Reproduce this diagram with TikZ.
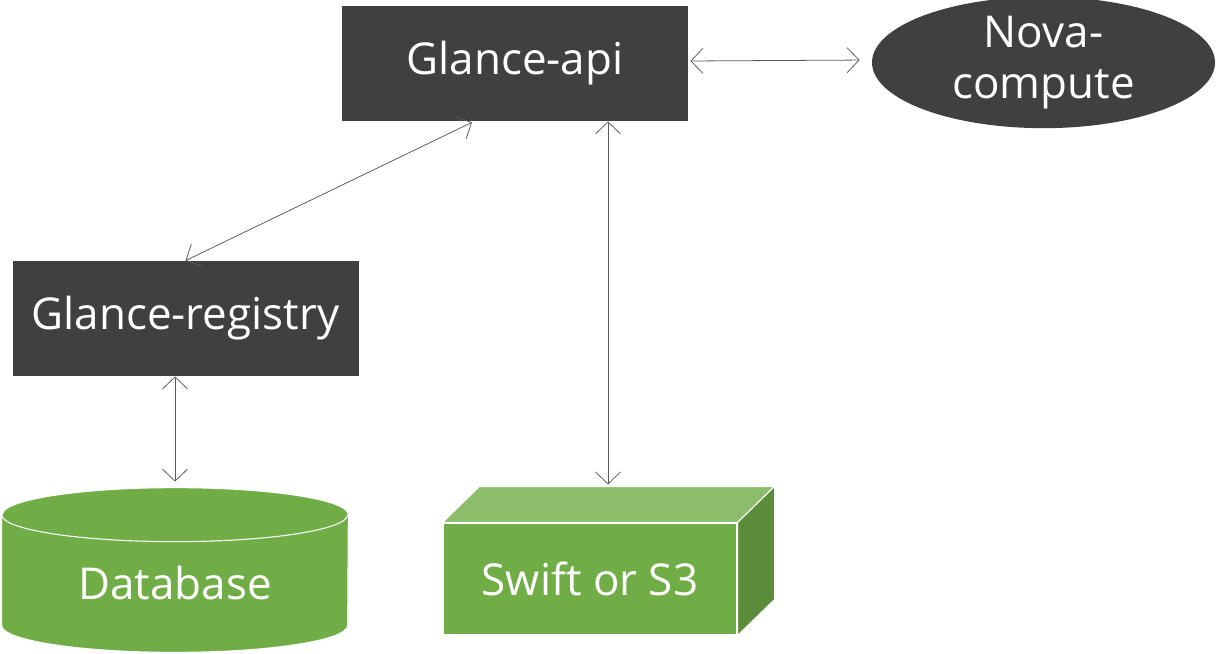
\documentclass[tikz,border=0pt]{standalone}
\usepackage{fontspec}
\setmainfont{Open Sans}
\usetikzlibrary{calc,shapes.geometric,arrows.meta}

\definecolor{boxgray}{HTML}{404040}
\definecolor{storegreen}{HTML}{70AD47}
\definecolor{storelight}{HTML}{8DBD6B}
\definecolor{storedark}{HTML}{5A8C3A}

\begin{document}
\begin{tikzpicture}[
 >={Straight Barb[length=2.4mm,width=5mm]},
 align=center,
 font=\fontsize{25}{29}\selectfont,
 link/.style={<->,draw=boxgray!85,line width=0.45pt},
 service/.style={draw=none,fill=boxgray,text=white,rectangle,minimum width=6.92cm,minimum height=2.3cm},
 worker/.style={draw=none,fill=boxgray,text=white,ellipse,minimum width=6.86cm,minimum height=2.3cm,inner sep=0pt},
 store/.style={draw=white,line width=0.6pt,fill=storegreen,text=white,rectangle,minimum width=5.88cm,minimum height=2.24cm},
 db/.style={draw=none,text=white,rectangle,minimum width=6.92cm,minimum height=3.28cm,inner sep=0pt},
 face/.style={draw=white,line width=0.6pt}
]
\useasboundingbox (0,0) rectangle (24.34,-13.08);
\node (glance-api) [service] at (10.30,-1.27) {Glance-api};
\node (nova-compute) [worker] at (20.87,-1.25) {Nova-\\compute};
\node (glance-registry) [service] at (3.71,-6.37) {Glance-registry};
\node (database) [db] at (3.50,-11.40) {};
% cylinder body and top
\filldraw[face,fill=storegreen]
 ($(database.north west)+(0,-0.54)$) -- ($(database.south west)+(0,0.54)$)
 arc[start angle=180,end angle=360,x radius=3.46cm,y radius=0.54cm]
 -- ($(database.north east)+(0,-0.54)$)
 arc[start angle=0,end angle=180,x radius=3.46cm,y radius=0.54cm] -- cycle;
\draw[face] ($(database.north west)+(0,-0.54)$)
 arc[start angle=180,end angle=360,x radius=3.46cm,y radius=0.54cm];
\node at ($(database.center)+(0,-0.26)$) [text=white] {Database};
\node (swift) [store] at (11.80,-11.58) {Swift or S3};
% top and side of the box
\filldraw[face,fill=storelight]
 (swift.north west) -- ++(0.74,0.72) -- ($(swift.north east)+(0.74,0.72)$) -- (swift.north east) -- cycle;
\filldraw[face,fill=storedark]
 (swift.north east) -- ++(0.74,0.72) -- ($(swift.south east)+(0.74,0.72)$) -- (swift.south east) -- cycle;
\coordinate (swift-top) at ($(swift.north)+(0.36,0.76)$);
\draw[link,shorten <=0.04cm,shorten >=0.24cm] ($(glance-api.east)+(0,0.05)$) -- ($(nova-compute.west)+(0,0.05)$);
\draw[link] ($(glance-api.south)+(-0.86,-0.02)$) -- (glance-registry.north);
\draw[link] (glance-api.south -| swift-top) -- (swift-top);
\draw[link,shorten >=0.12cm] (glance-registry.south -| database.north) -- (database.north);
\end{tikzpicture}
\end{document}
